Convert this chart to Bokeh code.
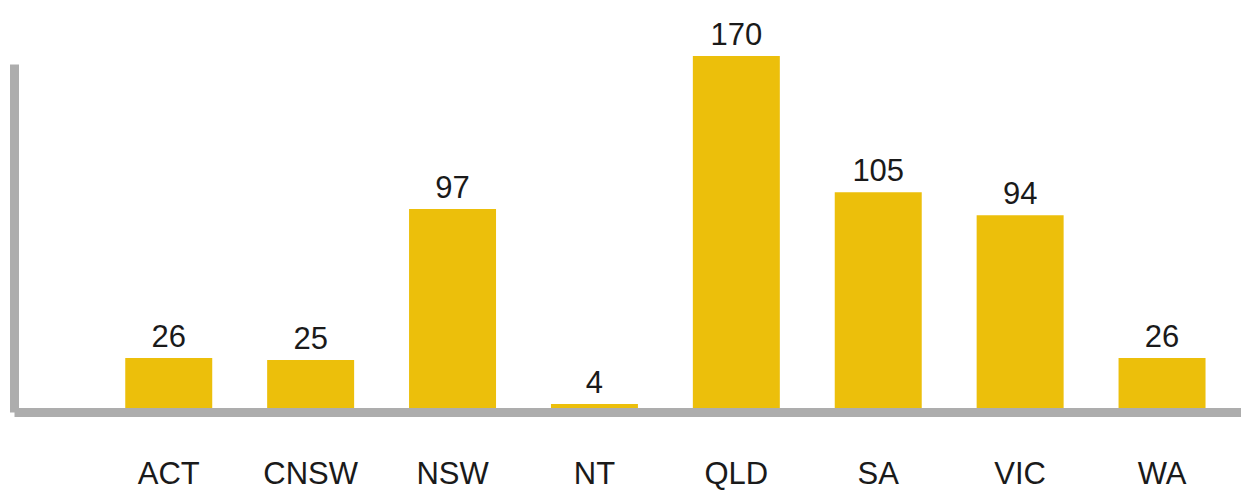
from bokeh.plotting import figure
from bokeh.models import ColumnDataSource, Range1d, FixedTicker, LabelSet
from bokeh.core.properties import value
from bokeh.embed import file_html
from bokeh.resources import INLINE

# data
regions = ["ACT", "CNSW", "NSW", "NT", "QLD", "SA", "VIC", "WA"]
counts = [26, 25, 97, 4, 170, 105, 94, 26]

xs = list(range(len(regions)))
src = ColumnDataSource(dict(x=xs, top=counts, label=[str(c) for c in counts]))

BAR = "#ECBF0B"
AXIS = "#ADADAD"
FONT = "Liberation Sans"

p = figure(width=1241, height=493, output_backend="svg", toolbar_location=None,
           x_range=Range1d(-1.087, 7.560), y_range=Range1d(0, 196.4),
           min_border_left=14, min_border_right=0, min_border_top=0, min_border_bottom=0)
p.outline_line_color = None
p.xgrid.visible = False
p.ygrid.visible = False
p.background_fill_color = "white"
p.border_fill_color = "white"

p.vbar(x="x", top="top", bottom=0, width=0.613, source=src, color=BAR, line_color=None)

labels = LabelSet(x="x", y="top", text="label", source=src, text_align="center",
                  text_baseline="alphabetic", y_offset=11, text_font=value(FONT),
                  text_font_size=value("31px"), text_color="#1a1a1a")
p.add_layout(labels)

xa = p.xaxis[0]
xa.ticker = FixedTicker(ticks=xs)
xa.major_label_overrides = {i: r for i, r in zip(xs, regions)}
xa.major_tick_out = 0
xa.major_tick_in = 0
xa.minor_tick_out = 0
xa.minor_tick_in = 0
xa.axis_line_width = 9
xa.axis_line_color = AXIS
xa.major_label_standoff = 43
xa.major_label_text_font = FONT
xa.major_label_text_font_size = "31px"
xa.major_label_text_color = "#1a1a1a"
xa.major_label_text_line_height = 0.8

ya = p.yaxis[0]
ya.ticker = FixedTicker(ticks=[])
ya.bounds = (-2.2, 166)
ya.major_tick_out = 0
ya.major_tick_in = 0
ya.minor_tick_out = 0
ya.minor_tick_in = 0
ya.axis_line_width = 9
ya.axis_line_color = AXIS
ya.major_label_text_font_size = "0px"

open("out.html", "w").write(file_html(p, INLINE))
